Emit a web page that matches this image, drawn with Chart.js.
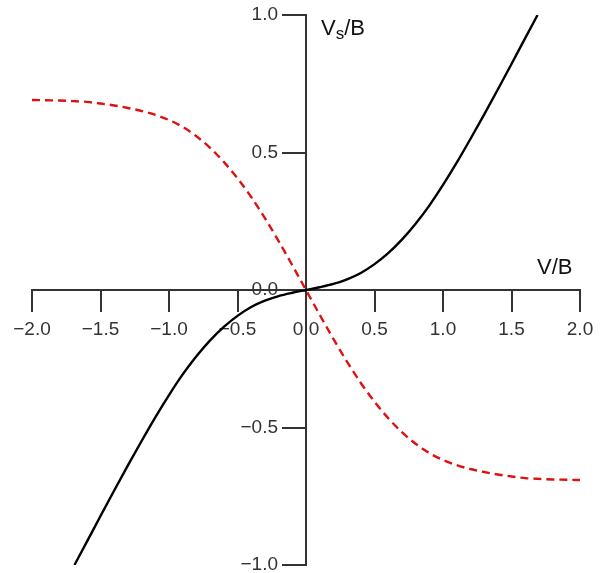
<!DOCTYPE html>
<html>
<head>
<meta charset="utf-8">
<script src="https://cdn.jsdelivr.net/npm/chart.js@4/dist/chart.umd.min.js"></script>
<style>
  html, body { margin: 0; padding: 0; background: #ffffff; }
  #c { display: block; }
</style>
</head>
<body>
<canvas id="c" width="601" height="573"></canvas>
<script>
// ---- data ----
const redX = [-2.0, -1.9, -1.8, -1.7, -1.6, -1.5, -1.4, -1.3, -1.2, -1.1, -1.0, -0.9, -0.8, -0.7, -0.6, -0.5, -0.4, -0.3, -0.2, -0.1,
              0.0, 0.1, 0.2, 0.3, 0.4, 0.5, 0.6, 0.7, 0.8, 0.9, 1.0, 1.1, 1.2, 1.3, 1.4, 1.5, 1.6, 1.7, 1.8, 1.9, 2.0];
const redY = [0.691, 0.69, 0.689, 0.687, 0.684, 0.678, 0.671, 0.662, 0.651, 0.637, 0.618, 0.593, 0.559, 0.517, 0.466, 0.406, 0.338, 0.261, 0.178, 0.09,
              0.0, -0.09, -0.178, -0.261, -0.338, -0.406, -0.466, -0.517, -0.559, -0.593, -0.618, -0.637, -0.651, -0.662, -0.671, -0.678, -0.684, -0.687, -0.689, -0.69, -0.691];
const blackX = [-1.69, -1.6, -1.5, -1.4, -1.3, -1.2, -1.1, -1.0, -0.9, -0.8, -0.7, -0.6, -0.5, -0.4, -0.3, -0.2, -0.1,
                0.0, 0.1, 0.2, 0.3, 0.4, 0.5, 0.6, 0.7, 0.8, 0.9, 1.0, 1.1, 1.2, 1.3, 1.4, 1.5, 1.6, 1.69];
const blackY = [-1.0, -0.916, -0.822, -0.729, -0.638, -0.549, -0.463, -0.382, -0.307, -0.241, -0.183, -0.134, -0.094, -0.062, -0.039, -0.022, -0.01,
                0.0, 0.01, 0.022, 0.039, 0.062, 0.094, 0.134, 0.183, 0.241, 0.307, 0.382, 0.463, 0.549, 0.638, 0.729, 0.822, 0.916, 1.0];
const xTickValues = [-2.0, -1.5, -1.0, -0.5, 0.0, 0.5, 1.0, 1.5, 2.0];
const yTickValues = [-1.0, -0.5, 0.0, 0.5, 1.0];
const xTitle = 'V/B';
const yTitleMain = 'V';
const yTitleSub = 's';
const yTitleRest = '/B';

const toPts = (xs, ys) => xs.map((x, i) => ({ x: x, y: ys[i] }));
const fmt = v => {
  const s = Math.abs(v).toFixed(1);
  return (v < -1e-9 ? '\u2212' : '') + s;
};

const axisColor = '#333333';
const labelFont = { family: '"Liberation Sans", Arial, Helvetica, sans-serif', size: 19 };
const Y_LABEL_SHIFT = 28; // tick length + padding for the crossing y axis

const titlesPlugin = {
  id: 'axisTitles',
  afterDraw(chart) {
    const ctx = chart.ctx;
    const xs = chart.scales.x, ys = chart.scales.y;
    const x0 = xs.getPixelForValue(0), y0 = ys.getPixelForValue(0);
    const yTop = ys.getPixelForValue(1);
    ctx.save();
    ctx.fillStyle = '#111111';
    ctx.textBaseline = 'alphabetic';
    ctx.textAlign = 'left';
    ctx.font = '22px "Liberation Sans", Arial, sans-serif';
    ctx.fillText(xTitle, x0 + 231, y0 - 16);
    // Vs/B
    let px = x0 + 15;
    const base = yTop + 20;
    ctx.font = '22px "Liberation Sans", Arial, sans-serif';
    ctx.fillText(yTitleMain, px, base);
    px += ctx.measureText(yTitleMain).width;
    ctx.font = '17px "Liberation Sans", Arial, sans-serif';
    ctx.fillText(yTitleSub, px, base + 4);
    px += ctx.measureText(yTitleSub).width;
    ctx.font = '22px "Liberation Sans", Arial, sans-serif';
    ctx.fillText(yTitleRest, px, base);
    ctx.restore();
  }
};

new Chart(document.getElementById('c'), {
  type: 'scatter',
  data: {
    datasets: [
      {
        label: 'red',
        data: toPts(redX, redY),
        showLine: true,
        borderColor: '#dd1111',
        borderWidth: 2.4,
        borderDash: [8, 5],
        pointRadius: 0,
        cubicInterpolationMode: 'monotone',
        fill: false
      },
      {
        label: 'black',
        data: toPts(blackX, blackY),
        showLine: true,
        borderColor: '#000000',
        borderWidth: 2.4,
        pointRadius: 0,
        cubicInterpolationMode: 'monotone',
        fill: false
      }
    ]
  },
  options: {
    responsive: false,
    animation: false,
    devicePixelRatio: 1,
    layout: { padding: { left: 32, right: 21, top: 15, bottom: 8 } },
    plugins: { legend: { display: false }, tooltip: { enabled: false } },
    scales: {
      x: {
        type: 'linear',
        position: { y: 0 },
        min: -2, max: 2,
        afterFit(s) { s.height = 0; s.paddingLeft = 0; s.paddingRight = 0; },
        afterBuildTicks(s) { s.ticks = xTickValues.map(v => ({ value: v })); },
        grid: { drawOnChartArea: false, drawTicks: true, tickLength: 21, color: axisColor, lineWidth: 2 },
        border: { color: axisColor, width: 2 },
        ticks: { color: '#333333', font: labelFont, padding: 7, maxRotation: 0, autoSkip: false,
                 callback: v => fmt(v) }
      },
      y: {
        type: 'linear',
        position: { x: 0 },
        min: -1, max: 1,
        afterFit(s) { s.width = 0; s.paddingTop = 0; s.paddingBottom = 0; },
        afterUpdate(s) {
          if (!s._shiftPatched) {
            const orig = s._computeLabelItems.bind(s);
            s._computeLabelItems = function (ca) {
              const items = orig(ca);
              items.forEach(it => { it.options.translation[0] -= Y_LABEL_SHIFT; });
              return items;
            };
            s._shiftPatched = true;
          }
        },
        afterBuildTicks(s) { s.ticks = yTickValues.map(v => ({ value: v })); },
        grid: { drawOnChartArea: false, drawTicks: true, tickLength: 23, color: axisColor, lineWidth: 2 },
        border: { color: axisColor, width: 2 },
        ticks: { color: '#333333', font: labelFont, padding: 5, autoSkip: false,
                 callback: v => fmt(v) }
      }
    }
  },
  plugins: [titlesPlugin]
});
</script>
</body>
</html>
